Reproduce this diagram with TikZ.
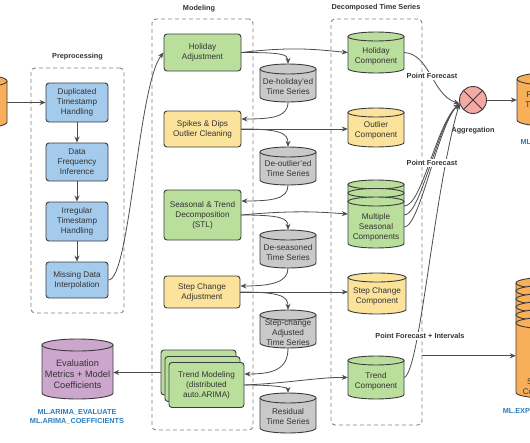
\documentclass[tikz,border=0pt]{standalone}
\usepackage{fontspec}
\setmainfont{Liberation Sans}
\usetikzlibrary{arrows.meta}
\definecolor{org}{HTML}{F8AF5A}
\definecolor{blu}{HTML}{A4CBEC}
\definecolor{grn}{HTML}{BADF9C}
\definecolor{ylw}{HTML}{FCE39B}
\definecolor{gry}{HTML}{C9C9C9}
\definecolor{pur}{HTML}{CCA6CC}
\definecolor{pnk}{HTML}{F4A9A3}
\definecolor{mlc}{HTML}{2A7DBF}
\definecolor{tc}{HTML}{333333}
\definecolor{lc}{HTML}{3C3C3C}
\definecolor{gc}{HTML}{808080}
\definecolor{ac}{HTML}{4D4D4D}
\tikzset{
  txt/.style={font=\fontsize{8.2}{10}\selectfont, text=tc, align=center, inner sep=0pt},
  bigtxt/.style={font=\fontsize{9.2}{11}\selectfont, text=tc, align=center, inner sep=0pt},
  box/.style={txt, draw=lc, line width=0.9pt, rounded corners=3pt},
  cylline/.style={draw=lc, line width=0.9pt},
  grp/.style={draw=gc, dash pattern=on 4pt off 3pt, line width=0.9pt, rounded corners=4pt, inner sep=0pt},
  ttl/.style={font=\bfseries\fontsize{7.3}{9}\selectfont, text=tc, inner sep=0pt},
  lbl/.style={ttl, fill=white, inner sep=1pt},
  mllbl/.style={font=\bfseries\fontsize{7.3}{9}\selectfont, text=mlc, align=center, inner sep=0pt},
  arr/.style={draw=ac, line width=0.8pt, -{Stealth[length=6pt,width=5pt]}},
}
% name, cx, top, bottom, half width, ry, fill, text, text y
\newcommand\mycyl[9]{%
  \fill[#7] (#2-#5,#3+#6) -- (#2-#5,#4-#6) arc[start angle=180,end angle=360,x radius=#5pt,y radius=#6pt] -- (#2+#5,#3+#6) -- cycle;
  \draw[cylline] (#2-#5,#3+#6) -- (#2-#5,#4-#6) arc[start angle=180,end angle=360,x radius=#5pt,y radius=#6pt] -- (#2+#5,#3+#6);
  \draw[cylline,fill=#7] (#2,#3+#6) ellipse[x radius=#5pt,y radius=#6pt];
  \node[inner sep=0pt,minimum width={2*#5},minimum height={#4-#3}] (#1) at (#2,{(#3+#4)/2}) {};
  \node[txt] (#1-t) at (#2,#9) {#8};
}
\begin{document}
\begin{tikzpicture}[x=1pt,y=-1pt]
\useasboundingbox (0,0) rectangle (530,442);
\clip (0,0) rectangle (530,442);

% groups
\node[grp, minimum width=93, minimum height=245] (pre) at (77.5,190.5) {};
\node[grp, minimum width=101, minimum height=411] (mod) at (202.5,224.5) {};
\node[grp, minimum width=91, minimum height=406] (dec) at (376.5,222) {};
\node[ttl] (pret) at (77.5,57) {Preprocessing};
\node[ttl] (modt) at (199,9) {Modeling};
\node[ttl] (dect) at (376,8) {Decomposed Time Series};

% input
\mycyl{in}{-21}{75}{128}{28}{6}{org}{}{101}

% preprocessing boxes
\node[box, fill=blu, minimum width=62, minimum height=39] (dup) at (77,102.5) {Duplicated\\Timestamp\\Handling};
\node[box, fill=blu, minimum width=62, minimum height=38] (frq) at (77,162) {Data\\Frequency\\Inference};
\node[box, fill=blu, minimum width=62, minimum height=39] (irr) at (77,221.5) {Irregular\\Timestamp\\Handling};
\node[box, fill=blu, minimum width=62, minimum height=36] (mis) at (77,280) {Missing Data\\Interpolation};

% modeling boxes
\node[box, fill=grn, minimum width=77, minimum height=37] (hol) at (202.5,52.5) {Holiday\\Adjustment};
\node[box, fill=ylw, minimum width=77, minimum height=36] (spk) at (202.5,129) {Spikes \& Dips\\Outlier Cleaning};
\node[box, fill=grn, minimum width=77, minimum height=50] (stl) at (202.5,215) {Seasonal \& Trend\\Decomposition\\(STL)};
\node[box, fill=ylw, minimum width=76, minimum height=32] (stp) at (202,292) {Step Change\\Adjustment};
\node[box, fill=grn, minimum width=75, minimum height=45] (tmb) at (198.5,372.5) {};
\node[box, fill=grn, minimum width=75, minimum height=45] (tmm) at (202.5,379) {};
\node[box, fill=grn, minimum width=75, minimum height=45] (tm) at (206.5,385) {Trend Modeling\\(distributed\\auto.ARIMA)};

% intermediate series
\mycyl{dh}{288}{64}{102}{28}{5}{gry}{De-holiday'ed\\Time Series}{87}
\mycyl{do}{288}{147}{185}{28}{5}{gry}{De-outlier'ed\\Time Series}{169}
\mycyl{ds}{288}{230}{268}{28}{5}{gry}{De-seasoned\\Time Series}{253}
\mycyl{sa}{288}{310}{348}{28}{5}{gry}{Step-change\\Adjusted\\Time Series}{333}
\mycyl{rs}{288}{393}{433}{28}{5}{gry}{Residual\\Time Series}{417}

% components
\mycyl{hc}{376}{32}{73}{28}{4.5}{grn}{Holiday\\Component}{56}
\mycyl{oc}{376}{108}{147}{28}{4.5}{ylw}{Outlier\\Component}{130}
\mycyl{ms}{376}{180}{248}{28}{4.5}{grn}{Multiple\\Seasonal\\Components}{227}
\draw[cylline, fill=grn] (376,193) ellipse[x radius=28pt, y radius=4.5pt];
\draw[cylline, fill=grn] (376,201.5) ellipse[x radius=28pt, y radius=4.5pt];
\mycyl{scc}{377}{273}{314}{29}{4.5}{ylw}{Step Change\\Component}{296}
\mycyl{trc}{376}{356}{399}{28}{4.5}{grn}{Trend\\Component}{381}

% evaluation
\fill[pur] (42,345) -- (42,393) arc[start angle=180,end angle=360,x radius=35.5pt,y radius=6pt] -- (113,345) -- cycle;
\draw[cylline] (42,345) -- (42,393) arc[start angle=180,end angle=360,x radius=35.5pt,y radius=6pt] -- (113,345);
\draw[cylline, fill=pur] (77.5,345) ellipse[x radius=35.5pt, y radius=6pt];
\node[inner sep=0pt, minimum width=71, minimum height=60] (ev) at (77.5,369) {};
\node[bigtxt] (ev-t) at (77.5,374) {Evaluation\\Metrics + Model\\Coefficients};
\node[mllbl] (evml) at (77,416.5) {ML.ARIMA\_EVALUATE\\ML.ARIMA\_COEFFICIENTS};

% aggregation
\node[circle, draw=lc, line width=0.9pt, fill=pnk, minimum size=27, inner sep=0pt] (agg) at (473,100) {};
\draw[lc, line width=0.9pt] (agg.north west) -- (agg.south east) (agg.north east) -- (agg.south west);
\node[ttl] (aggl) at (473,131) {Aggregation};

% outputs
\mycyl{fc}{547}{73}{126}{30}{6}{org}{Forecasted\\Time Series}{100}
\node[mllbl] (fcml) at (547,142) {ML.FORECAST};
\mycyl{sc}{546}{277.5}{398}{30}{5.5}{org}{Separated\\Components}{387}
\foreach \yy in {291,299,307,315,323}{
  \draw[cylline, fill=org] (546,\yy) ellipse[x radius=30pt, y radius=5.5pt];
}
\node[mllbl] (scml) at (547,411) {ML.EXPLAIN\_FORECAST};

% connectors: preprocessing
\draw[arr] (in.east |- dup.west) -- (dup.west);
\draw[arr] (dup.south) -- (frq.north);
\draw[arr] (frq.south) -- (irr.north);
\draw[arr] (irr.south) -- (mis.north);
\draw[arr] (mis.east) .. controls (130,280) and (138,85) .. (hol.west);

% modeling chain
\draw[arr] (hol.east) .. controls (280,52.5) and (288,54) .. (dh.north);
\draw[arr] (hol.east) .. controls (295,46) and (320,50) .. (hc.west);
\draw[arr] (dh.south) .. controls (288,117) and (272,119) .. ([yshift=10pt]spk.east);
\draw[arr] (spk.east) -- (spk.east -| oc.west);
\draw[arr] (spk.east) .. controls (280,129) and (288,133) .. (do.north);
\draw[arr] (do.south) .. controls (288,199) and (272,201) .. ([yshift=14pt]stl.east);
\draw[arr] (stl.east) .. controls (295,210) and (320,212) .. (ms.west);
\draw[arr] (stl.east) .. controls (280,215) and (288,218) .. (ds.north);
\draw[arr] (ds.south) .. controls (288,282) and (272,286) .. ([yshift=6pt]stp.east);
\draw[arr] (stp.east) -- (stp.east -| scc.west);
\draw[arr] (stp.east) .. controls (280,292) and (288,296) .. (sa.north);
\draw[arr] (sa.south) .. controls (288,370) and (272,374) .. ([yshift=11pt]tm.east);
\draw[arr] (tm.east) .. controls (290,383) and (320,377) .. (trc.west);
\draw[arr] (tm.east) .. controls (280,385) and (288,388) .. (rs.north);
\draw[arr] (tmb.west) -- (tmb.west -| ev.east);

% to aggregation
\draw[arr] (hc.east) .. controls (430,54) and (432,95) .. (agg.195);
\draw[arr] ([yshift=8pt]ms.east) .. controls (422,206) and (436,125) .. (agg.195);
\draw[arr] ([yshift=-1pt]ms.east) .. controls (421,215) and (437,125) .. (agg.195);
\draw[arr] ([yshift=-13pt]ms.east) .. controls (420,227) and (438,125) .. (agg.195);
\draw[arr] (trc.east) .. controls (420,372) and (434,190) .. (agg.195);
\draw[arr] (agg.east) -- (agg.east -| fc.west);
\draw[arr] (dec.east |- trc.north) -- (sc.west |- trc.north);

% labels
\node[lbl] (pf1) at (432,76) {Point Forecast};
\node[lbl] (pf2) at (432,163) {Point Forecast};
\node[lbl] (pfi) at (420,336) {Point Forecast + Intervals};
\end{tikzpicture}
\end{document}
